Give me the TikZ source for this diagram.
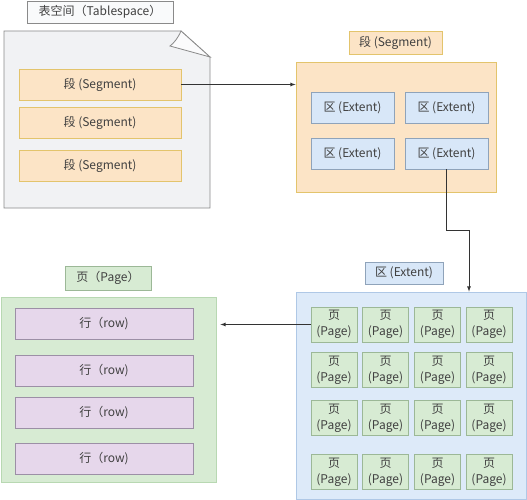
\documentclass[tikz,border=0pt]{standalone}
\usepackage{fontspec}
\setmainfont{Noto Sans CJK SC}
\definecolor{tsfill}{HTML}{F1F2F4}
\definecolor{tsline}{HTML}{8A8A8A}
\definecolor{segfill}{HTML}{FCE4C6}
\definecolor{segline}{HTML}{E3C46C}
\definecolor{extfill}{HTML}{D8E7F8}
\definecolor{extline}{HTML}{8FA3BA}
\definecolor{extbigfill}{HTML}{DDEAF9}
\definecolor{extbigline}{HTML}{AFC8E6}
\definecolor{pgfill}{HTML}{D7EBD3}
\definecolor{pgline}{HTML}{9CB897}
\definecolor{pgbigline}{HTML}{B8D8B2}
\definecolor{rowfill}{HTML}{E6D7EB}
\definecolor{rowline}{HTML}{9C8FA6}
\begin{document}
\begin{tikzpicture}[x=1pt,y=-1pt,>=latex,
    every node/.style={font=\fontsize{12}{16}\selectfont,text=black!75,inner sep=0,rectangle,line width=.8pt,align=center},
    tsbox/.style={draw=tsline,fill=tsfill},
    segbox/.style={draw=segline,fill=segfill},
    extbox/.style={draw=extline,fill=extfill},
    pgbox/.style={draw=pgline,fill=pgfill},
    rowbox/.style={draw=rowline,fill=rowfill}]
    \useasboundingbox(0,0)rectangle(527,500);
    % tablespace
    \node[tsbox,fill=white!60!tsfill,minimum width=146pt,minimum height=22pt](tstitle)at(100,12){表空间（Tablespace）};
    \draw[draw=tsline,fill=tsfill,line width=.8pt](4,31)--(181,31)--(210,57)--(210,208)--(4,208)--cycle;
    \draw[draw=tsline,fill=white!70!tsfill,line width=.8pt](181,31)..controls(178,38)and(174,43)..(170,46)--(210,57)--cycle;
    \node[segbox,minimum width=162pt,minimum height=31pt](seg1)at(100,84.5){段 (Segment)};
    \node[segbox,minimum width=162pt,minimum height=31pt](seg2)at(100,122.5){段 (Segment)};
    \node[segbox,minimum width=162pt,minimum height=31pt](seg3)at(100,165.5){段 (Segment)};
    % segment
    \node[segbox,minimum width=93pt,minimum height=23pt](segtitle)at(395.5,42.5){段 (Segment)};
    \node[segbox,minimum width=200pt,minimum height=130pt](segbig)at(396,127){};
    \node[extbox,minimum width=83pt,minimum height=31pt](ext1)at(352.5,107.5){区 (Extent)};
    \node[extbox,minimum width=83pt,minimum height=31pt](ext2)at(446.5,107.5){区 (Extent)};
    \node[extbox,minimum width=83pt,minimum height=31pt](ext3)at(352.5,153.5){区 (Extent)};
    \node[extbox,minimum width=83pt,minimum height=31pt](ext4)at(446.5,153.5){区 (Extent)};
    % extent
    \node[extbox,minimum width=78pt,minimum height=22pt](exttitle)at(404,273){区 (Extent)};
    \node[draw=extbigline,fill=extbigfill,minimum width=230pt,minimum height=207pt](extbig)at(411,395.5){};
    \foreach \r/\y in {1/324.5,2/370,3/418,4/472}{
        \foreach \c/\x in {1/334,2/385.5,3/437.5,4/489}{
            \node[pgbox,minimum width=46pt,minimum height=35pt](pg\r\c)at(\x,\y){页\\(Page)};
        }
    }
    % page
    \node[pgbox,minimum width=86pt,minimum height=24pt](pgtitle)at(108,278){页（Page）};
    \node[draw=pgbigline,fill=pgfill,minimum width=215pt,minimum height=185pt](pgbig)at(108.5,389.5){};
    \foreach \i/\y in {1/323.5,2/370.5,3/412.5,4/458.5}{
        \node[rowbox,minimum width=178pt,minimum height=31pt](row\i)at(104,\y){行（row)};
    }
    % connectors
    \coordinate(elbow)at(469,230);
    \draw[->,line width=.8pt,black!80](seg1.east)--(seg1.east-|segbig.west);
    \draw[->,line width=.8pt,black!80](ext4.south)|-(elbow)--(elbow|-extbig.north);
    \draw[->,line width=.8pt,black!80,shorten >=4pt](pg11.west)--(pg11.west-|pgbig.east);
\end{tikzpicture}
\end{document}
